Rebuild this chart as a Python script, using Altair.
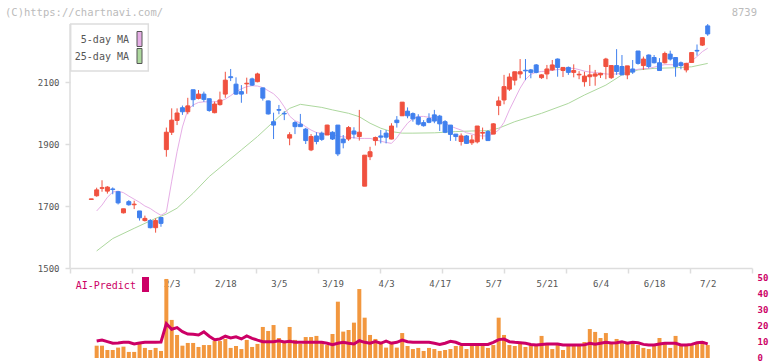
import altair as alt
import pandas as pd

# ---------------- data ----------------
opens = [1721, 1733, 1757, 1748, 1755, 1746, 1678, 1714, 1704, 1684,
         1653, 1653, 1630, 1663, 1882, 1938, 1976, 2017, 2004, 2075,
         2047, 2061, 2046, 2001, 2027, 2061, 2117, 2093, 2069, 2094,
         2110, 2101, 2081, 2039, 1972, 2011, 1999, 1919, 1969, 1964,
         1948, 1881, 1926, 1935, 1929, 1938, 1961, 1916, 1916, 1942,
         1924, 1764, 1859, 1911, 1926, 1935, 1916, 1977, 1991, 2006,
         1998, 1987, 1969, 1982, 1994, 1990, 1972, 1961, 1932, 1908,
         1926, 1904, 1907, 1935, 1940, 1932, 2024, 2042, 2077, 2106,
         2126, 2138, 2139, 2155, 2114, 2126, 2139, 2174, 2137, 2147,
         2131, 2123, 2101, 2117, 2119, 2123, 2150, 2114, 2153, 2150,
         2123, 2142, 2200, 2153, 2187, 2179, 2162, 2162, 2190, 2179,
         2162, 2139, 2163, 2202, 2219, 2281]
highs = [1723, 1759, 1783, 1764, 1760, 1748, 1691, 1719, 1717, 1684,
         1669, 1658, 1660, 1663, 1953, 2015, 2015, 2024, 2049, 2075,
         2074, 2069, 2046, 2037, 2069, 2133, 2142, 2115, 2090, 2114,
         2114, 2130, 2081, 2040, 2001, 2026, 2006, 1938, 1974, 1997,
         1952, 1932, 1938, 1940, 1962, 1941, 1961, 1929, 1958, 1954,
         2010, 1864, 1891, 1924, 1945, 1945, 1967, 1990, 2035, 2018,
         2002, 1996, 1977, 1999, 2010, 1994, 1977, 1961, 1932, 1934,
         1929, 1929, 1958, 1953, 1945, 1967, 2053, 2123, 2128, 2133,
         2174, 2174, 2142, 2158, 2125, 2155, 2171, 2176, 2147, 2150,
         2157, 2135, 2133, 2155, 2139, 2130, 2178, 2153, 2206, 2187,
         2152, 2171, 2200, 2182, 2189, 2187, 2177, 2198, 2201, 2179,
         2166, 2162, 2195, 2221, 2244, 2287]
lows = [1721, 1730, 1746, 1740, 1738, 1705, 1676, 1701, 1690, 1653,
        1650, 1628, 1614, 1633, 1859, 1929, 1961, 1994, 1996, 2020,
        2044, 2036, 2004, 1999, 2024, 2049, 2103, 2058, 2033, 2062,
        2087, 2099, 2040, 1995, 1916, 1996, 1977, 1896, 1932, 1955,
        1900, 1877, 1899, 1910, 1929, 1913, 1861, 1886, 1910, 1918,
        1911, 1764, 1848, 1895, 1902, 1902, 1915, 1953, 1991, 1983,
        1972, 1960, 1956, 1967, 1967, 1942, 1935, 1910, 1910, 1895,
        1900, 1897, 1902, 1915, 1911, 1932, 1993, 2028, 2071, 2089,
        2112, 2106, 2112, 2128, 2110, 2109, 2136, 2117, 2116, 2123,
        2115, 2109, 2085, 2087, 2088, 2113, 2109, 2110, 2123, 2123,
        2109, 2126, 2156, 2139, 2144, 2160, 2137, 2160, 2169, 2117,
        2141, 2131, 2163, 2185, 2216, 2249]
closes = [1723, 1752, 1759, 1761, 1753, 1710, 1691, 1704, 1706, 1662,
          1660, 1630, 1653, 1644, 1938, 1977, 2000, 2004, 2023, 2043,
          2061, 2044, 2008, 2029, 2042, 2106, 2114, 2061, 2061, 2096,
          2090, 2126, 2048, 1997, 1961, 2009, 1997, 1930, 1956, 1956,
          1911, 1924, 1908, 1915, 1961, 1916, 1868, 1904, 1953, 1932,
          1938, 1864, 1875, 1921, 1922, 1922, 1958, 1969, 2035, 1991,
          1981, 1964, 1959, 1970, 1974, 1965, 1938, 1931, 1924, 1926,
          1902, 1913, 1958, 1937, 1911, 1965, 2039, 2085, 2116, 2133,
          2133, 2136, 2131, 2131, 2123, 2142, 2155, 2147, 2147, 2131,
          2137, 2125, 2119, 2123, 2126, 2128, 2174, 2153, 2134, 2123,
          2152, 2132, 2160, 2174, 2150, 2162, 2137, 2192, 2174, 2150,
          2153, 2160, 2195, 2200, 2243, 2255]

# 5-day MA, one value per candle from index 1
ma5_values = [1684, 1703, 1728, 1745, 1748, 1743, 1732, 1722, 1712, 1700,
              1692, 1680, 1670, 1680, 1780, 1875, 1955, 2010, 2026, 2034,
              2036, 2036, 2036, 2038, 2045, 2056, 2068, 2078, 2085, 2088,
              2087, 2082, 2072, 2062, 2045, 2020, 1990, 1975, 1968, 1956,
              1945, 1937, 1934, 1932, 1930, 1925, 1923, 1922, 1920, 1918,
              1918, 1918, 1914, 1909, 1905, 1902, 1920, 1945, 1967, 1982,
              1989, 1989, 1986, 1983, 1974, 1966, 1958, 1951, 1945, 1936,
              1932, 1927, 1926, 1926, 1933, 1945, 1970, 2010, 2045, 2080,
              2108, 2125, 2131, 2134, 2135, 2138, 2140, 2142, 2144, 2144,
              2140, 2135, 2132, 2131, 2128, 2126, 2125, 2126, 2128, 2131,
              2137, 2141, 2143, 2144, 2148, 2153, 2156, 2156, 2155, 2155,
              2158, 2168, 2182, 2198, 2209]
# 25-day MA, read at these candle indices
ma25_idx = [1, 4, 8, 12, 14, 16, 19, 22, 25, 28, 31, 34, 35, 37, 39, 41, 43,
            45, 48, 50, 52, 54, 56, 58, 60, 64, 68, 71, 74, 76, 79, 84, 89,
            92, 96, 99, 102, 105, 109, 112, 115]
ma25_values = [1555, 1595, 1628, 1660, 1674, 1693, 1741, 1795, 1838, 1881,
               1924, 1972, 1988, 2015, 2028, 2023, 2018, 2010, 1999, 1988,
               1967, 1951, 1940, 1935, 1935, 1936, 1940, 1942, 1943, 1951,
               1972, 1999, 2031, 2058, 2090, 2123, 2139, 2144, 2146, 2149,
               2160]

# lower panel, one value per candle from index 1
vol_values = [7.7, 7.7, 5.0, 5.0, 6.5, 7.1, 3.8, 3.8, 8.8, 6.3,
              5.0, 6.3, 4.4, 49.4, 23.8, 14.4, 7.7, 9.4, 9.4, 6.9,
              8.1, 8.1, 10.6, 10.6, 11.9, 6.3, 7.5, 5.6, 11.3, 6.9,
              8.8, 19.4, 16.9, 20.6, 12.5, 9.5, 19.4, 11.3, 8.8, 13.1,
              13.1, 13.8, 10.2, 8.1, 15.0, 35.2, 16.5, 17.5, 22.1, 43.1,
              25.2, 14.4, 11.9, 10.2, 6.5, 10.2, 6.5, 15.6, 7.5, 5.6,
              6.3, 4.4, 6.3, 5.6, 4.4, 5.0, 5.6, 7.5, 7.5, 5.6,
              8.1, 8.1, 8.1, 6.3, 8.1, 25.2, 14.4, 8.1, 7.5, 8.8,
              6.9, 8.1, 8.1, 13.8, 8.1, 5.6, 8.1, 5.0, 7.5, 8.1,
              8.1, 10.0, 18.1, 16.3, 12.5, 15.6, 8.8, 11.9, 9.4, 8.8,
              9.4, 8.1, 6.3, 5.6, 7.5, 12.5, 8.8, 6.3, 13.8, 8.1,
              7.5, 8.1, 9.4, 10.6, 8.1]
ai_values = [10.6, 11.2, 10.2, 9.2, 9.4, 9.8, 9.8, 8.8, 9.4, 9.8,
             9.8, 9.8, 10.0, 21.5, 18.0, 19.0, 16.5, 15.0, 14.8, 14.4,
             16.3, 13.6, 11.4, 11.9, 13.6, 12.5, 13.2, 11.9, 13.8, 12.3,
             11.2, 10.2, 10.2, 10.2, 10.8, 10.0, 10.4, 9.8, 9.8, 9.8,
             9.8, 9.8, 9.8, 9.2, 8.3, 9.2, 9.8, 9.2, 8.8, 10.8,
             9.8, 9.2, 10.2, 9.2, 10.6, 9.2, 9.8, 11.2, 10.2, 9.8,
             9.8, 9.8, 9.8, 9.2, 8.5, 9.2, 10.4, 9.8, 8.5, 8.5,
             8.5, 8.5, 8.5, 8.5, 9.8, 11.5, 11.8, 10.2, 9.8, 9.5,
             9.2, 8.5, 8.1, 8.5, 8.8, 8.8, 8.8, 8.1, 8.1, 8.1,
             8.1, 8.2, 9.2, 8.6, 9.2, 9.8, 9.4, 9.5, 10.2, 9.2,
             9.8, 9.5, 8.5, 8.1, 8.1, 8.8, 9.2, 9.2, 9.2, 8.1,
             8.1, 8.5, 9.5, 9.8, 8.8]

date_labels = ["2/3", "2/18", "3/5", "3/19", "4/3", "4/17", "5/7", "5/21",
               "6/4", "6/18", "7/2"]
date_idx = [15, 25, 35, 45, 55, 65, 75, 85, 95, 105, 115]
price_ticks = [1500, 1700, 1900, 2100]
vol_ticks = [0, 10, 20, 30, 40, 50]

# ---------------- frames ----------------
n = len(opens)
candles = pd.DataFrame({"i": list(range(n)), "open": opens, "high": highs,
                        "low": lows, "close": closes})
vol = pd.DataFrame({"i": list(range(1, n)), "vol": vol_values, "ai": ai_values})
ma5 = pd.DataFrame({"i": list(range(1, n)), "v": ma5_values})
ma25 = pd.DataFrame({"i": ma25_idx, "v": ma25_values})

# ---------------- style / layout ----------------
MONO = "DejaVu Sans Mono"
RED, BLUE = "#F0513F", "#4080EE"
PINK, GREEN = "#E6AEE6", "#ADD89E"
ORANGE, CRIMSON = "#F2973E", "#CC0066"
GRID, LABEL = "#DDDDDD", "#555555"
W, H = 682, 334
X_LO, X_HI = -3.974, 123.26
P_LO, P_HI = 1209.68, 2287.1
V_HI = 208.75
grid_ticks = [X_LO + k * (X_HI - X_LO) / 11 for k in range(12)]

xscale = alt.Scale(domain=[X_LO, X_HI], nice=False, zero=False, padding=0)
x_price = alt.X("i:Q", scale=xscale, title=None,
                axis=alt.Axis(orient="bottom", offset=-90, values=grid_ticks,
                              labels=False, grid=False, domainColor=GRID,
                              domainWidth=1.5, tickColor=GRID, tickWidth=1.5,
                              tickSize=5))
pscale = alt.Scale(domain=[P_LO, P_HI], nice=False, zero=False, padding=0)
paxis = alt.Axis(orient="left", values=price_ticks, format="d", domain=False,
                 grid=False, tickColor=GRID, tickWidth=1.5, tickSize=5,
                 labelPadding=6, labelColor=LABEL, labelFont=MONO,
                 labelFontSize=9)


def py(field):
    return alt.Y(field, scale=pscale, axis=paxis, title=None)


up = "datum.close >= datum.open"
candle_color = alt.condition(up, alt.value(RED), alt.value(BLUE))

ma25_line = alt.Chart(ma25).mark_line(color=GREEN, strokeWidth=1).encode(
    x=x_price, y=py("v:Q"))
ma5_line = alt.Chart(ma5).mark_line(color=PINK, strokeWidth=1).encode(
    x=x_price, y=py("v:Q"))
wicks = alt.Chart(candles).mark_rule(strokeWidth=1).encode(
    x=x_price, y=py("low:Q"), y2="high:Q", color=candle_color)
bodies = alt.Chart(candles).mark_bar(width=4, strokeWidth=1).encode(
    x=x_price, y=py("open:Q"), y2="close:Q", fill=candle_color,
    stroke=candle_color)
left_line = alt.Chart(pd.DataFrame({"v": [price_ticks[0]]})).mark_rule(
    color=GRID, strokeWidth=1.5).encode(x=alt.value(0), y=py("v:Q"),
                                        y2=alt.value(0))
price = alt.layer(ma25_line, ma5_line, wicks, bodies, left_line)

label_expr = ("[" + ",".join("'" + s + "'" for s in date_labels) + "]"
              + "[round((datum.value - %d) / %d)]" % (date_idx[0],
                                                     date_idx[1] - date_idx[0]))
x_vol = alt.X("i:Q", scale=xscale, title=None,
              axis=alt.Axis(orient="top", offset=-259, values=date_idx,
                            labelExpr=label_expr, domain=False, ticks=False,
                            tickSize=0, labelPadding=0, labelBaseline="middle",
                            labelColor=LABEL, labelFont=MONO, labelFontSize=9,
                            labelOverlap=False, labelFlush=False, grid=False))
vscale = alt.Scale(domain=[0, V_HI], nice=False, zero=False, padding=0)
vaxis = alt.Axis(orient="right", values=vol_ticks, domain=False, ticks=False,
                 tickSize=0, labelPadding=5, labelAlign="left", grid=False,
                 labelOffset=-1, labelColor=CRIMSON, labelFont=MONO,
                 labelFontSize=9, labelFontWeight="bold")
vol_bars = alt.Chart(vol).mark_bar(width=4, color=ORANGE).encode(
    x=x_vol, y=alt.Y("vol:Q", scale=vscale, axis=vaxis, title=None))
ai_line = alt.Chart(vol).mark_line(color=CRIMSON, strokeWidth=3).encode(
    x=x_vol, y=alt.Y("ai:Q", scale=vscale, axis=vaxis, title=None))
volume = alt.layer(vol_bars, ai_line)


def one(text):
    return pd.DataFrame({"t": [text]})


legend_box = alt.Chart(one("")).mark_rect(fill="white", stroke=GRID,
                                          strokeWidth=1.5).encode(
    x=alt.value(0.7), x2=alt.value(78.3), y=alt.value(0), y2=alt.value(47))
leg_t1 = alt.Chart(one("5-day MA")).mark_text(
    align="right", baseline="middle", font=MONO, fontSize=10,
    color=LABEL).encode(text="t:N", x=alt.value(59), y=alt.value(16))
leg_t2 = alt.Chart(one("25-day MA")).mark_text(
    align="right", baseline="middle", font=MONO, fontSize=10,
    color=LABEL).encode(text="t:N", x=alt.value(59), y=alt.value(32.7))
leg_s1 = alt.Chart(one("")).mark_rect(fill=PINK, stroke="#555555",
                                      strokeWidth=1).encode(
    x=alt.value(67), x2=alt.value(72), y=alt.value(7.5), y2=alt.value(22.5))
leg_s2 = alt.Chart(one("")).mark_rect(fill=GREEN, stroke="#555555",
                                      strokeWidth=1).encode(
    x=alt.value(67), x2=alt.value(72), y=alt.value(24.5), y2=alt.value(39.5))
ai_text = alt.Chart(one("AI-Predict")).mark_text(
    align="left", baseline="middle", font=MONO, fontSize=10,
    color=CRIMSON).encode(text="t:N", x=alt.value(5.7), y=alt.value(261.8))
ai_mark = alt.Chart(one("")).mark_rect(fill=CRIMSON).encode(
    x=alt.value(72), x2=alt.value(79), y=alt.value(253), y2=alt.value(268))
copy_text = alt.Chart(one("(C)https://chartnavi.com/")).mark_text(
    align="left", baseline="middle", font=MONO, fontSize=10.5,
    color="#BBBBBB").encode(text="t:N", x=alt.value(-65), y=alt.value(-11.5))
code_text = alt.Chart(one("8739")).mark_text(
    align="right", baseline="middle", font=MONO, fontSize=10.5,
    color="#BBBBBB").encode(text="t:N", x=alt.value(687), y=alt.value(-11.5))

chart = alt.layer(
    price, volume, legend_box, leg_t1, leg_t2, leg_s1, leg_s2,
    ai_text, ai_mark, copy_text, code_text
).resolve_scale(x="independent", y="independent").resolve_axis(
    x="independent", y="independent"
).properties(
    width=W, height=H,
    autosize=alt.AutoSizeParams(type="none"),
    padding={"left": 70, "top": 24, "right": 20, "bottom": 3},
    background="white",
).configure_view(stroke=None)

chart.save("out.html", embed_options={"renderer": "svg", "actions": False})
